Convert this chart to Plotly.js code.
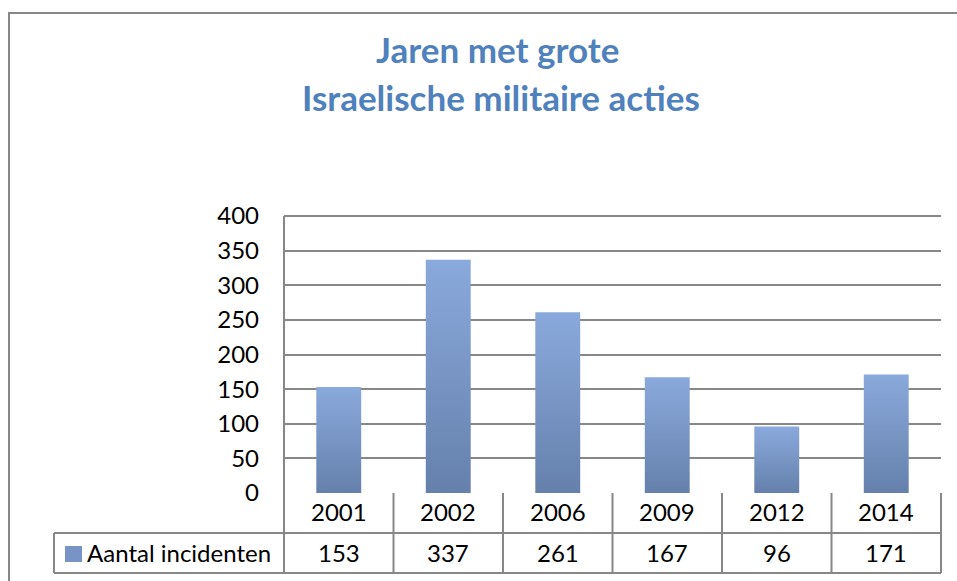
<!DOCTYPE html>
<html>
<head>
<meta charset="utf-8">
<script src="https://cdn.plot.ly/plotly-3.0.1.min.js"></script>
<style>html,body{margin:0;padding:0;background:#fff;}#chart{width:957px;height:581px;}</style>
</head>
<body>
<div id="chart"></div>
<script>
// ---- data ----
const years = ['2001', '2002', '2006', '2009', '2012', '2014'];
const incidents = [153, 337, 261, 167, 96, 171];
const seriesName = 'Aantal incidenten';
const titleLines = ['Jaren met grote', 'Israelische militaire acties'];
const yTicks = [0, 50, 100, 150, 200, 250, 300, 350, 400];

// ---- layout helpers (pixel -> paper) ----
const W = 957, H = 581;
const L = 284, R = 941, T = 216, B = 493;
const pw = R - L, ph = B - T;
const px = v => (v - L) / pw;
const py = v => (B - v) / ph;

const gridCol = '#878787';
const font = 'Lato, "Open Sans", sans-serif';
const txtSize = 24;
const barHalf = 0.205;

// bars as gradient-filled polygons positioned on the linear category index axis
const traces = years.map((yr, i) => ({
  type: 'scatter',
  mode: 'lines',
  x: [i - barHalf, i - barHalf, i + barHalf, i + barHalf, i - barHalf],
  y: [0, incidents[i], incidents[i], 0, 0],
  fill: 'toself',
  fillgradient: {type: 'vertical', colorscale: [[0, '#6580ab'], [1, '#8aa9dc']]},
  line: {width: 0, color: 'rgba(0,0,0,0)'},
  name: seriesName,
  showlegend: false,
  hoverinfo: 'text',
  text: yr + ': ' + incidents[i]
}));

const shapes = [];
const lineStyle = {color: gridCol, width: 2};
// outer chart frame
shapes.push({type: 'rect', xref: 'paper', yref: 'paper', x0: px(9), x1: px(975), y0: py(13), y1: py(600), line: lineStyle, layer: 'below'});
// top gridline (400)
shapes.push({type: 'line', xref: 'paper', yref: 'paper', x0: 0, x1: 1, y0: 1, y1: 1, line: lineStyle, layer: 'below'});
// axis line extending through table
shapes.push({type: 'line', xref: 'paper', yref: 'paper', x0: 0, x1: 0, y0: 1, y1: py(573), line: lineStyle});
// table horizontal lines
shapes.push({type: 'line', xref: 'paper', yref: 'paper', x0: px(54), x1: 1, y0: py(533), y1: py(533), line: lineStyle});
shapes.push({type: 'line', xref: 'paper', yref: 'paper', x0: px(54), x1: 1, y0: py(573), y1: py(573), line: lineStyle});
shapes.push({type: 'line', xref: 'paper', yref: 'paper', x0: px(54), x1: px(54), y0: py(533), y1: py(573), line: lineStyle});
// table column dividers
for (let k = 1; k <= years.length; k++) {
  const xp = k / years.length;
  shapes.push({type: 'line', xref: 'paper', yref: 'paper', x0: xp, x1: xp, y0: 0, y1: py(573), line: lineStyle});
}
// legend key square
shapes.push({type: 'rect', xref: 'paper', yref: 'paper', x0: px(65), x1: px(82), y0: py(546), y1: py(562),
  fillcolor: '#7893c5', line: {width: 0}});

const annotations = [];
// title lines
annotations.push({xref: 'paper', yref: 'paper', x: px(497), y: py(49), xanchor: 'center', yanchor: 'middle',
  text: '<b>' + titleLines[0] + '</b>', showarrow: false, font: {family: font, size: 35, color: '#4f81bd'}});
annotations.push({xref: 'paper', yref: 'paper', x: px(501), y: py(97), xanchor: 'center', yanchor: 'middle',
  text: '<b>' + titleLines[1] + '</b>', showarrow: false, font: {family: font, size: 35, color: '#4f81bd'}});
// data table
years.forEach((yr, i) => {
  annotations.push({xref: 'x', yref: 'paper', x: i, y: py(511), xanchor: 'center', yanchor: 'middle',
    text: yr, showarrow: false, font: {family: font, size: txtSize, color: '#000'}});
  annotations.push({xref: 'x', yref: 'paper', x: i, y: py(552), xanchor: 'center', yanchor: 'middle',
    text: String(incidents[i]), showarrow: false, font: {family: font, size: txtSize, color: '#000'}});
});
annotations.push({xref: 'paper', yref: 'paper', x: px(85), y: py(552), xanchor: 'left', yanchor: 'middle',
  text: seriesName, showarrow: false, font: {family: font, size: txtSize, color: '#000'}});

const layout = {
  width: W, height: H,
  margin: {l: L, r: W - R, t: T, b: H - B, pad: 0},
  paper_bgcolor: '#fff', plot_bgcolor: '#fff',
  showlegend: false,
  font: {family: font, size: txtSize, color: '#000'},
  xaxis: {type: 'linear', range: [-0.5, years.length - 0.5], showgrid: false, zeroline: false,
    showticklabels: false, ticks: '', showline: false, fixedrange: true},
  yaxis: {range: [0, 400], tickvals: yTicks, ticktext: yTicks.map(String), showgrid: true,
    gridcolor: gridCol, gridwidth: 2, zeroline: false, showline: false, ticks: '',
    ticklabelstandoff: 24, tickfont: {family: font, size: txtSize, color: '#000'}, fixedrange: true},
  shapes: shapes,
  annotations: annotations
};

Plotly.newPlot('chart', traces, layout, {displayModeBar: false, staticPlot: true});
</script>
</body>
</html>
